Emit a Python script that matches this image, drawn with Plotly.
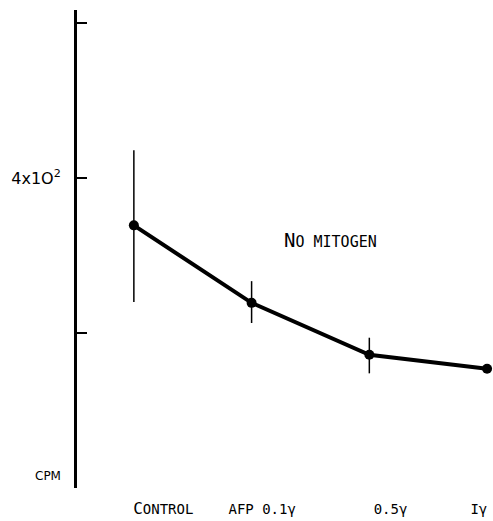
import plotly.graph_objects as go

# data
categories = ["Control", "AFP 0.1γ", "0.5γ", "1γ"]
cpm = [339, 239, 172, 154]
err_plus = [97, 28, 22, 0]
err_minus = [99, 26, 24, 0]

x_pos = [0, 1, 2, 3]
x_label_pos = [0.25, 1.09, 2.18, 2.93]
x_label_text = ["<span style='font-size:16px'>C</span>ONTROL", "AFP 0.1γ", "0.5γ", "Iγ"]
y_tick_vals = [200, 400, 600]
y_tick_text = ["", "4x1O<sup>2</sup>", ""]

fig = go.Figure()
fig.add_trace(go.Scatter(
    x=x_pos, y=cpm,
    mode="lines+markers",
    line=dict(color="black", width=4),
    marker=dict(color="black", size=10),
    error_y=dict(type="data", symmetric=False, array=err_plus, arrayminus=err_minus,
                 color="black", thickness=1.5, width=0),
    cliponaxis=False,
    showlegend=False,
))

fig.add_annotation(x=1.67, y=320, xref="x", yref="y",
                   text="<span style='font-size:19px'>N</span>O MITOGEN",
                   showarrow=False, font=dict(family="DejaVu Sans Mono", size=15, color="black"))
fig.add_annotation(x=0, y=15, xref="paper", yref="y", xanchor="right", xshift=-14,
                   text="CPM", showarrow=False,
                   font=dict(family="DejaVu Sans", size=12, color="black"))

fig.update_layout(
    width=493, height=521,
    margin=dict(l=77, r=5, t=10, b=33),
    paper_bgcolor="white", plot_bgcolor="white",
    font=dict(family="DejaVu Sans", color="black"),
    xaxis=dict(range=[-0.483, 3.008], showgrid=False, zeroline=False, showline=False,
               tickvals=x_label_pos, ticktext=x_label_text, ticks="", automargin=False,
               tickfont=dict(size=14, family="DejaVu Sans Mono"), ticklabelstandoff=11),
    yaxis=dict(range=[0, 617], showgrid=False, zeroline=False, showline=True, automargin=False,
               linecolor="black", linewidth=3, ticks="inside", ticklen=10, tickwidth=2,
               tickcolor="black", tickvals=y_tick_vals, ticktext=y_tick_text,
               tickfont=dict(size=16, family="DejaVu Sans"), ticklabelstandoff=10),
)

fig.write_html("out.html", config={"displayModeBar": False},
               post_script="document.body.style.margin='0';")
